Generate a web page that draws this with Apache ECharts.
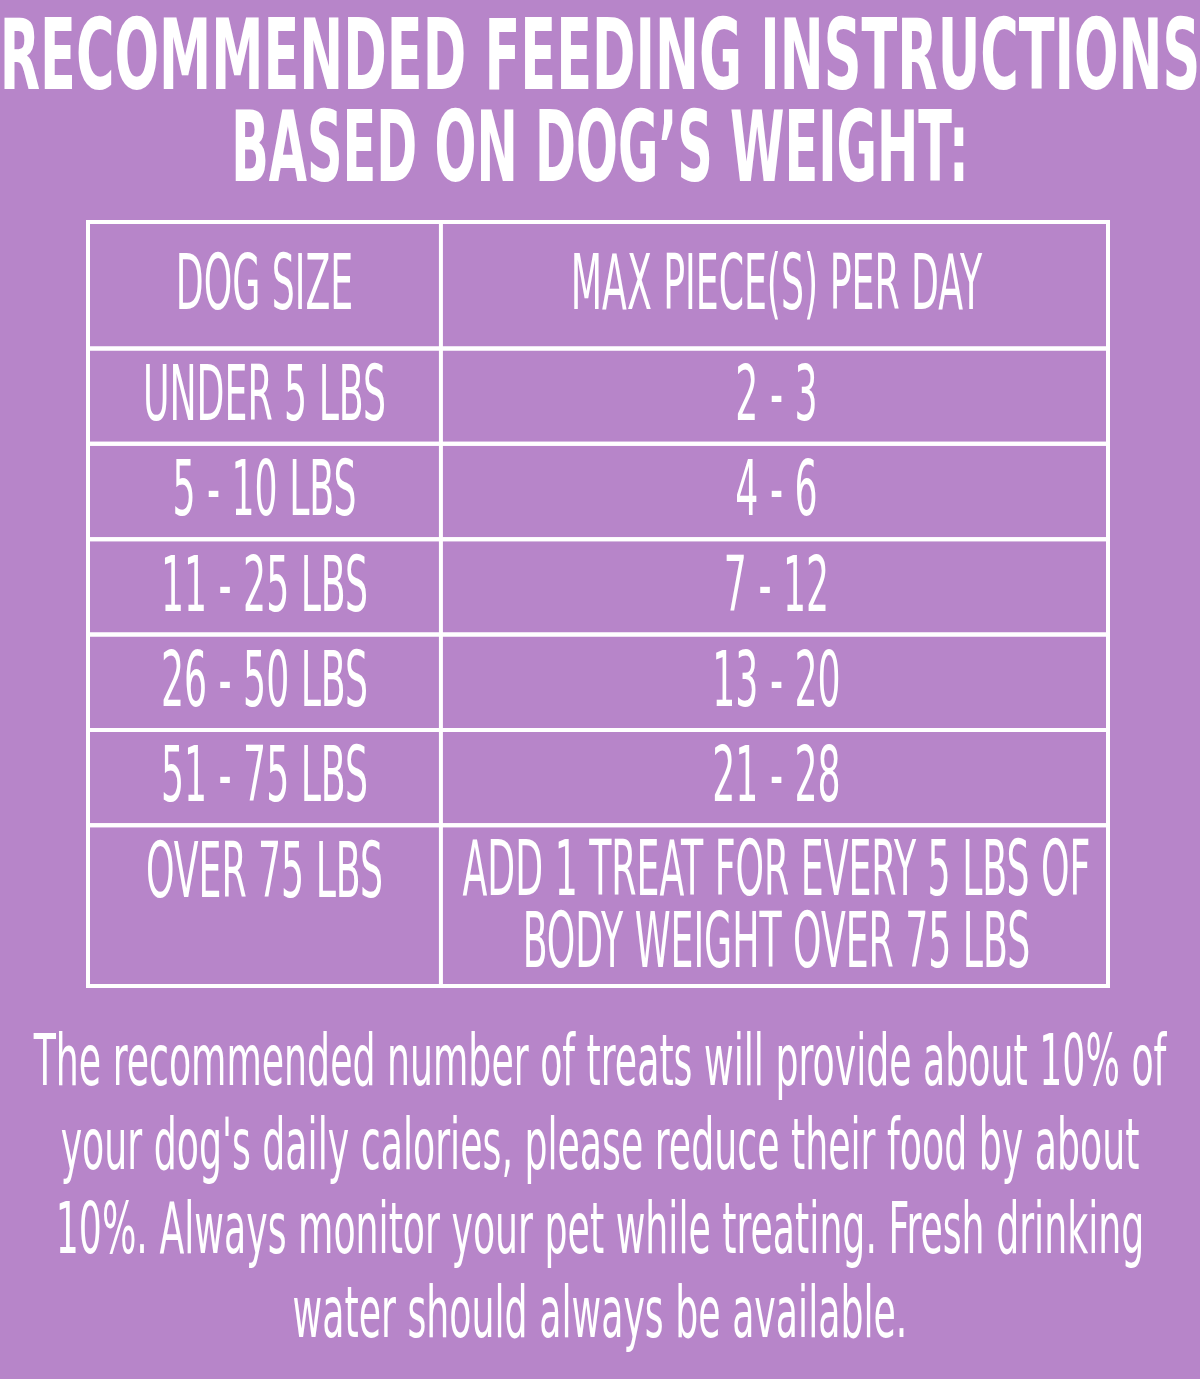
<!DOCTYPE html><html><head><meta charset="utf-8">
<script src="https://cdn.jsdelivr.net/npm/echarts@6/dist/echarts.min.js"></script>
<style>html,body{margin:0;background:#b785c9}#c{width:1200px;height:1379px}</style></head><body><div id="c"></div>
<script>
const titleLines = ["RECOMMENDED FEEDING INSTRUCTIONS", "BASED ON DOG\u2019S WEIGHT:"];
const headers = ["DOG SIZE", "MAX PIECE(S) PER DAY"];
const dogSizes = ["UNDER 5 LBS", "5 - 10 LBS", "11 - 25 LBS", "26 - 50 LBS", "51 - 75 LBS", "OVER 75 LBS"];
const maxPieces = ["2 - 3", "4 - 6", "7 - 12", "13 - 20", "21 - 28", "ADD 1 TREAT FOR EVERY 5 LBS OF\nBODY WEIGHT OVER 75 LBS"];
const noteLines = ["The recommended number of treats will provide about 10% of",
  "your dog's daily calories, please reduce their food by about",
  "10%. Always monitor your pet while treating. Fresh drinking",
  "water should always be available."];

const FONT = "'Liberation Sans Narrow','DejaVu Sans Condensed',sans-serif";
const WHITE = '#ffffff';
const colSplit = 0.346;
const rowWeights = [126, 95, 95, 95, 95, 95, 160];
const tot = rowWeights.reduce((a,b)=>a+b,0);
const rowEdges = [0]; rowWeights.forEach(w=>rowEdges.push(rowEdges[rowEdges.length-1]+w/tot));

const rows = [headers].concat(dogSizes.map((d,i)=>[d, maxPieces[i]]));
const data = rows.map((r,i)=>[i]);

function renderItem(params, api){
  const i = api.value(0);
  const r = rows[i];
  const p0 = api.coord([0, rowEdges[i]]), p1 = api.coord([1, rowEdges[i+1]]);
  const xs = api.coord([colSplit, 0])[0];
  const y0 = p0[1], y1 = p1[1], x0 = p0[0], x1 = p1[0];
  const last = i === rows.length-1;
  const mk = (txt, cx, cy, lh) => ({type:'text', x:cx, y:cy, scaleX:0.53,
    style:{text:txt, x:0, y:0, align:'center', verticalAlign: last?'top':'middle', fill:WHITE,
      font:'76px '+FONT, lineHeight:lh||76}});
  const ty = last ? y0 + 14 : (y0+y1)/2 + 4;
  return {type:'group', children:[
    {type:'rect', shape:{x:x0, y:y0, width:x1-x0, height:y1-y0}, style:{fill:'none', stroke:WHITE, lineWidth:4}},
    {type:'line', shape:{x1:xs, y1:y0, x2:xs, y2:y1}, style:{stroke:WHITE, lineWidth:4}},
    mk(r[0], (x0+xs)/2, ty),
    mk(r[1], (xs+x1)/2 + 2, ty, 72)
  ]};
}

const chart = echarts.init(document.getElementById('c'));
const textEl = (t, y, size, weight, sx) => ({type:'text', x:600, y:y, scaleX:sx,
  style:{text:t, x:0, y:0, align:'center', verticalAlign:'middle', fill:WHITE, font: weight+' '+size+'px '+FONT}});
const titleScale = [0.595, 0.56];
chart.setOption({
  backgroundColor:'#b785c9',
  animation:false,
  grid:{left:88, right:92, top:222, bottom:393},
  xAxis:{type:'value', min:0, max:1, show:false},
  yAxis:{type:'value', min:0, max:1, inverse:true, show:false},
  series:[{type:'custom', renderItem, data, clip:false}],
  graphic: titleLines.map((t,i)=>textEl(t, 64 + i*92, 98, 'bold', titleScale[i]))
    .concat(noteLines.map((t,i)=>textEl(t, 1066 + i*84, 72, 'normal', 0.56)))
});
</script></body></html>
